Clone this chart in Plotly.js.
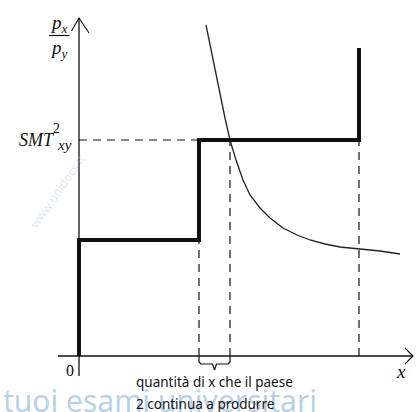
<!DOCTYPE html>
<html>
<head>
<meta charset="utf-8">
<script src="https://cdn.plot.ly/plotly-3.0.1.min.js"></script>
<style>
  html, body { margin: 0; padding: 0; background: #ffffff; }
  #chart { width: 416px; height: 412px; }
</style>
</head>
<body>
<div id="chart"></div>
<script>
// Step supply curve of country 2 (relative price vs quantity of x)
const stepX = [0, 0, 12, 12, 28, 28];
const stepY = [0, 11.6, 11.6, 21.6, 21.6, 30.8];

// Downward sloping demand-like curve
const curveX = [12.7, 13.1, 13.6, 14.1, 14.6, 15.1, 15.7, 16.4, 17.1, 18.1, 19.1, 20.4, 21.8, 23.1, 24.6, 26.1, 28.3, 30.1, 32.1];
const curveY = [33.1, 31.1, 28.6, 26.1, 23.8, 21.6, 19.6, 17.6, 16.1, 14.8, 13.8, 12.8, 12.1, 11.6, 11.2, 10.9, 10.7, 10.5, 10.2];

// Intersection of the curve with the upper step (SMT level)
const eqX = 15.1;
const smtY = 21.6;

// Axis extents
const xAxisMin = -2.1, xAxisMax = 33.4;
const yAxisMin = -2.0, yAxisMax = 33.8;

const labelLine1 = "quantità di x che il paese";
const labelLine2 = "2 continua a produrre";

const ink = "#111111";
const dashStyle = "8px,6px";

function line(x, y, width, dash, color) {
  return {
    x: x, y: y, type: "scatter", mode: "lines",
    line: { color: color || ink, width: width, dash: dash || "solid" },
    hoverinfo: "skip", showlegend: false
  };
}

const lowStep = stepY[1];
const x1 = stepX[2], x2 = stepX[4];
const mid = (x1 + eqX) / 2;

const traces = [
  // axes
  line([0, 0], [yAxisMin, yAxisMax], 1.3),
  line([xAxisMin, xAxisMax], [0, 0], 1.3),
  // arrowheads
  line([-0.75, 0, 1.0], [32.5, yAxisMax, 32.3], 1.1),
  line([xAxisMax - 0.8, xAxisMax, xAxisMax - 0.8], [0.8, 0, -0.8], 1.1),
  // dashed guides
  line([0, x1], [smtY, smtY], 1.2, dashStyle),
  line([x1, x1], [0, lowStep], 1.2, dashStyle),
  line([eqX, eqX], [0, smtY], 1.2, dashStyle),
  line([x2, x2], [0, stepY[4]], 1.2, dashStyle),
  // curve
  line(curveX, curveY, 1.3, "solid", "#222222"),
  // step supply
  line(stepX, stepY, 4),
  // brace under the axis between x1 and eqX
  line([x1, x1, x1 + 0.2, mid - 0.2, mid, mid + 0.2, eqX - 0.2, eqX, eqX],
       [-0.05, -0.6, -0.8, -0.8, -1.4, -0.8, -0.8, -0.6, -0.05], 1.2)
];

const serif = "Liberation Serif, DejaVu Serif, serif";
const sans = "Noto Sans, Open Sans, sans-serif";

const annotations = [
  // watermark
  { x: -7.85, y: -4.4, xref: "x", yref: "y", xanchor: "left", yanchor: "middle", showarrow: false,
    text: "tuoi esami universitari", font: { family: sans, size: 30, color: "rgba(120,170,220,0.55)" } },
  { x: -2.2, y: 16.5, xref: "x", yref: "y", showarrow: false, textangle: -55,
    text: "www.unidocs.it", font: { family: sans, size: 12, color: "rgba(150,190,235,0.35)" } },
  // p_x / p_y
  { x: -0.9, y: 33.2, xref: "x", yref: "y", xanchor: "right", showarrow: false,
    text: "<i>p</i><sub><i>x</i></sub>", font: { family: serif, size: 19, color: ink } },
  { x: -0.9, y: 30.7, xref: "x", yref: "y", xanchor: "right", showarrow: false,
    text: "<i>p</i><sub><i>y</i></sub>", font: { family: serif, size: 19, color: ink } },
  // SMT^2_xy
  { x: -2.2, y: smtY, xref: "x", yref: "y", xanchor: "right", showarrow: false,
    text: "<i>SMT</i>", font: { family: serif, size: 18, color: ink } },
  { x: -2.85, y: smtY + 1.2, xref: "x", yref: "y", xanchor: "left", showarrow: false,
    text: "2", font: { family: serif, size: 14, color: ink } },
  { x: -2.4, y: smtY - 0.5, xref: "x", yref: "y", xanchor: "left", showarrow: false,
    text: "<i>xy</i>", font: { family: serif, size: 15, color: ink } },
  // origin and x label
  { x: -0.9, y: -1.4, xref: "x", yref: "y", showarrow: false,
    text: "0", font: { family: serif, size: 16, color: ink } },
  { x: 32.2, y: -1.5, xref: "x", yref: "y", showarrow: false,
    text: "<i>x</i>", font: { family: serif, size: 19, color: ink } },
  // brace caption
  { x: 5.5, y: -2.6, xref: "x", yref: "y", xanchor: "left", showarrow: false,
    text: labelLine1, font: { family: sans, size: 13.5, color: ink } },
  { x: 5.5, y: -4.75, xref: "x", yref: "y", xanchor: "left", showarrow: false,
    text: labelLine2, font: { family: sans, size: 13.5, color: ink } }
];

const layout = {
  width: 416, height: 412,
  margin: { l: 0, r: 0, t: 0, b: 0 },
  paper_bgcolor: "#ffffff", plot_bgcolor: "#ffffff",
  xaxis: { range: [-7.9, 33.7], visible: false, fixedrange: true },
  yaxis: { range: [-5.6, 35.6], visible: false, fixedrange: true },
  shapes: [
    // fraction bar of p_x / p_y
    { type: "line", xref: "x", yref: "y", x0: -3.0, x1: -0.95, y0: 32.05, y1: 32.05,
      line: { color: ink, width: 1.2 } }
  ],
  annotations: annotations,
  showlegend: false
};

Plotly.newPlot("chart", traces, layout, { staticPlot: true, displayModeBar: false });
</script>
</body>
</html>
